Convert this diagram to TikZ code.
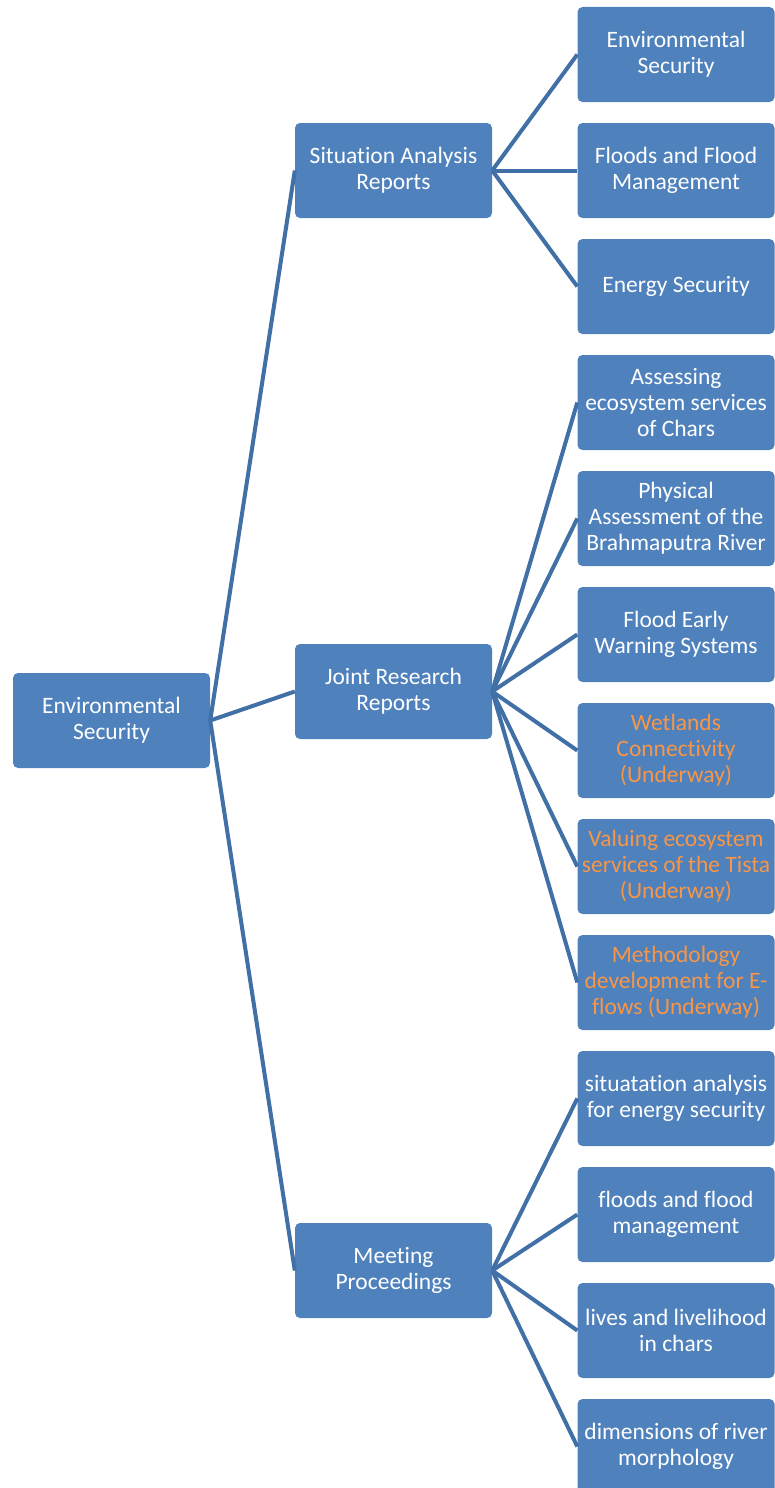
\documentclass[tikz,border=0pt]{standalone}
\usepackage{fontspec}
\setmainfont{Carlito}[Ligatures=NoCommon]
\definecolor{boxblue}{HTML}{4F81BD}
\definecolor{lineblue}{HTML}{4170A6}
\definecolor{pending}{HTML}{F79646}
\begin{document}
\begin{tikzpicture}[x=1pt,y=-1pt,
  box/.style={fill=boxblue, rounded corners=5pt, minimum width=197pt,
    minimum height=95pt, text=white, align=center, inner sep=0pt,
    font=\fontsize{23.5}{26}\selectfont},
  underway/.style={box, text=pending},
  link/.style={draw=lineblue, line width=4pt}]
\useasboundingbox (0,0) rectangle (775,1488);

% root
\node[box] (root) at (111.5,720.5) {Environmental\\Security};

% second level
\node[box] (sar) at (393.5,170.5) {Situation Analysis\\Reports};
\node[box] (jrr) at (393.5,691.5) {Joint Research\\Reports};
\node[box] (mp)  at (393.5,1270.5) {Meeting\\Proceedings};

% leaves
\node[box] (s1) at (676,54.5) {Environmental\\Security};
\node[box] (s2) at (676,170.5) {Floods and Flood\\Management};
\node[box] (s3) at (676,286.5) {Energy Security};

\node[box] (j1) at (676,402.5) {Assessing\\ecosystem services\\of Chars};
\node[box] (j2) at (676,518.5) {Physical\\Assessment of the\\Brahmaputra River};
\node[box] (j3) at (676,634.5) {Flood Early\\Warning Systems};
\node[underway] (j4) at (676,750.5) {Wetlands\\Connectivity\\(Underway)};
\node[underway] (j5) at (676,866.5) {Valuing ecosystem\\services of the Tista\\(Underway)};
\node[underway] (j6) at (676,982.5) {Methodology\\development for E-\\flows (Underway)};

\node[box] (m1) at (676,1098.5) {situatation analysis\\for energy security};
\node[box] (m2) at (676,1214.5) {floods and flood\\management};
\node[box] (m3) at (676,1330.5) {lives and livelihood\\in chars};
\node[box] (m4) at (676,1446.5) {dimensions of river\\morphology};

% connectors
\foreach \t in {sar,jrr,mp} \draw[link] (root.east) -- (\t.west);
\foreach \t in {s1,s2,s3} \draw[link] (sar.east) -- (\t.west);
\foreach \t in {j1,j2,j3,j4,j5,j6} \draw[link] (jrr.east) -- (\t.west);
\foreach \t in {m1,m2,m3,m4} \draw[link] (mp.east) -- (\t.west);
\end{tikzpicture}
\end{document}
